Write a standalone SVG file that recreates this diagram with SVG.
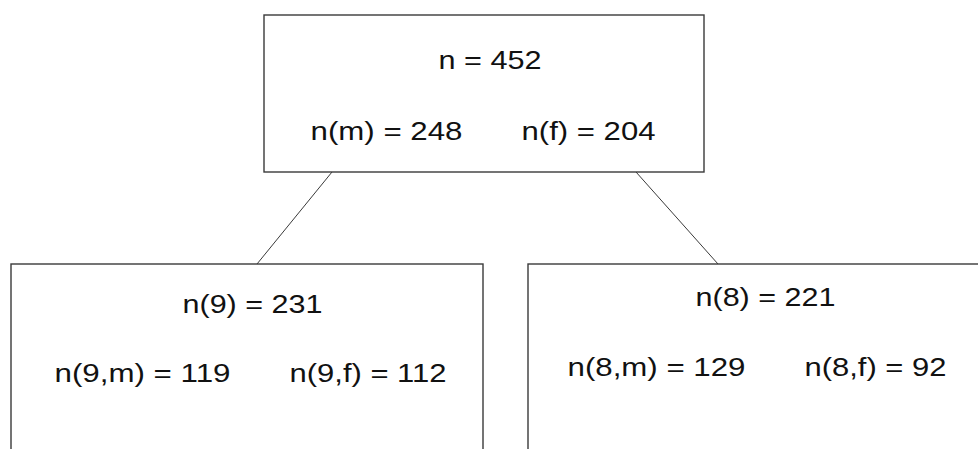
<svg xmlns="http://www.w3.org/2000/svg" width="978" height="449" viewBox="0 0 978 449">
<style>
.box{fill:#ffffff;stroke:#3a3a3a;stroke-width:1.4}
.edge{stroke:#3a3a3a;stroke-width:1;fill:none}
text{font-family:"Liberation Sans",Arial,sans-serif;font-size:25px;fill:#111111}
</style>
<rect width="978" height="449" fill="#ffffff"/>
<g id="connectors">
<line class="edge" x1="332" y1="172" x2="257" y2="264"/>
<line class="edge" x1="636" y1="172" x2="718" y2="264"/>
</g>
<g id="root">
<rect class="box" x="264" y="15" width="440" height="157"/>
<text x="438.5" y="69" textLength="103" lengthAdjust="spacingAndGlyphs">n = 452</text>
<text x="310.5" y="140" textLength="152" lengthAdjust="spacingAndGlyphs">n(m) = 248</text>
<text x="521.5" y="140" textLength="134" lengthAdjust="spacingAndGlyphs">n(f) = 204</text>
</g>
<g id="node9">
<rect class="box" x="11" y="264" width="472" height="210"/>
<text x="182.5" y="313" textLength="140" lengthAdjust="spacingAndGlyphs">n(9) = 231</text>
<text x="54.5" y="382" textLength="176" lengthAdjust="spacingAndGlyphs">n(9,m) = 119</text>
<text x="289.5" y="382" textLength="157" lengthAdjust="spacingAndGlyphs">n(9,f) = 112</text>
</g>
<g id="node8">
<rect class="box" x="528" y="264" width="480" height="210"/>
<text x="695.5" y="306" textLength="140" lengthAdjust="spacingAndGlyphs">n(8) = 221</text>
<text x="567.5" y="376" textLength="178" lengthAdjust="spacingAndGlyphs">n(8,m) = 129</text>
<text x="804.5" y="376" textLength="142" lengthAdjust="spacingAndGlyphs">n(8,f) = 92</text>
</g>
</svg>
